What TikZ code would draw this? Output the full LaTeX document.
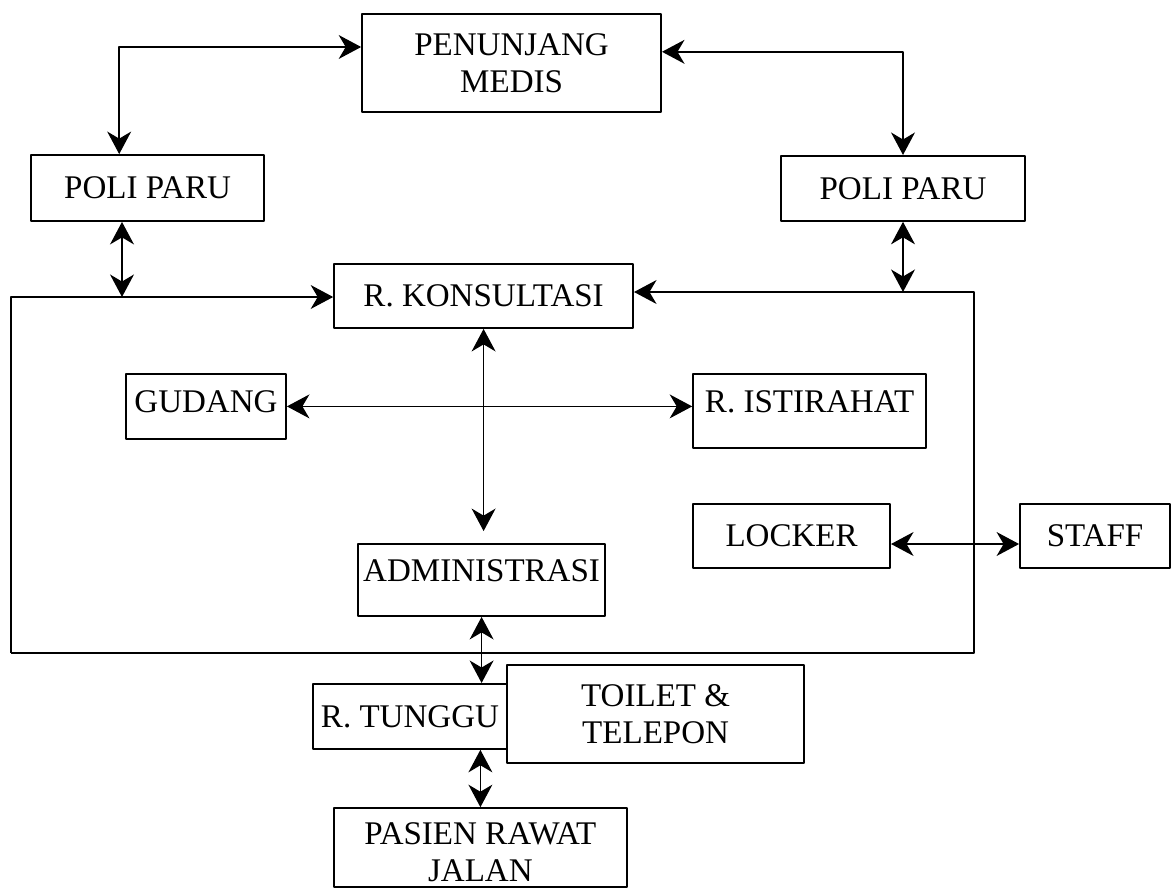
\documentclass[tikz,border=0pt]{standalone}
\usepackage{fontspec}
\setmainfont{Liberation Serif}
\usetikzlibrary{arrows.meta}
\begin{document}
\begin{tikzpicture}[>={Stealth[length=16pt,width=17pt,inset=5pt]},line join=round,
	kotak/.style={draw,line width=1.3pt,fill=white,align=center,inner sep=0pt,font=\fontsize{23.5}{26}\selectfont},
	panah/.style={<->,line width=1.2pt}]
	\useasboundingbox (0,0) rectangle (29.35,-22.225);
	\node[kotak,minimum width=7.475cm,minimum height=2.45cm] (penunjang) at (12.79,-1.575) {PENUNJANG\\MEDIS};
	\node[kotak,minimum width=5.825cm,minimum height=1.65cm] (poliL) at (3.69,-4.7) {POLI PARU};
	\node[kotak,minimum width=6.1cm,minimum height=1.625cm] (poliR) at (22.575,-4.71) {POLI PARU};
	\node[kotak,minimum width=7.475cm,minimum height=1.6cm] (konsul) at (12.09,-7.4) {R. KONSULTASI};
	\node[kotak,minimum width=4cm,minimum height=1.625cm,text depth=0.22cm] (gudang) at (5.15,-10.16) {GUDANG};
	\node[kotak,minimum width=5.825cm,minimum height=1.85cm,text depth=0.45cm] (istirahat) at (20.24,-10.275) {R. ISTIRAHAT};
	\node[kotak,minimum width=6.175cm,minimum height=1.8cm,text depth=0.45cm] (admin) at (12.04,-14.5) {ADMINISTRASI};
	\node[kotak,minimum width=4.925cm,minimum height=1.6cm] (locker) at (19.79,-13.4) {LOCKER};
	\node[kotak,minimum width=3.75cm,minimum height=1.6cm] (staff) at (27.375,-13.4) {STAFF};
	\node[kotak,minimum width=4.85cm,minimum height=1.625cm] (tunggu) at (10.25,-17.91) {R. TUNGGU};
	\node[kotak,minimum width=7.425cm,minimum height=2.45cm] (toilet) at (16.39,-17.85) {TOILET \&\\TELEPON};
	\node[kotak,minimum width=7.325cm,minimum height=1.975cm] (pasien) at (12.01,-21.19) {\rule{0pt}{0.78cm}PASIEN RAWAT\\JALAN};
	\coordinate (fa) at (0.275,-7.425);
	\coordinate (fb) at (0.275,-16.325);
	\coordinate (fc) at (24.35,-16.325);
	\coordinate (fd) at (24.35,-7.3);
	\draw[->,line width=1.2pt] (fb) -- (fa) -- (fa -| konsul.west);
	\draw[->,line width=1.2pt] (fb) -- (fc) -- (fd) -- (fd -| konsul.east);
	\draw[panah] ([yshift=0.4cm]penunjang.west) -| ([xshift=-0.71cm]poliL.north);
	\draw[panah] ([yshift=0.28cm]penunjang.east) -| (poliR.north);
	\draw[panah] ([xshift=-0.64cm]poliL.south) -- ([xshift=-0.64cm]poliL.south |- fa);
	\draw[panah] (poliR.south) -- (poliR.south |- fd);
	\draw[panah,shorten >=0.3cm] (konsul.south) -- (konsul.south |- admin.north);
	\draw[panah] (gudang.east) -- (gudang.east -| istirahat.west);
	\draw[panah] ([yshift=-0.2cm]locker.east) -- ([yshift=-0.2cm]staff.west);
	\draw[panah] (admin.south) -- (admin.south |- tunggu.north);
	\draw[panah] (pasien.north |- tunggu.south) -- (pasien.north);
\end{tikzpicture}
\end{document}
